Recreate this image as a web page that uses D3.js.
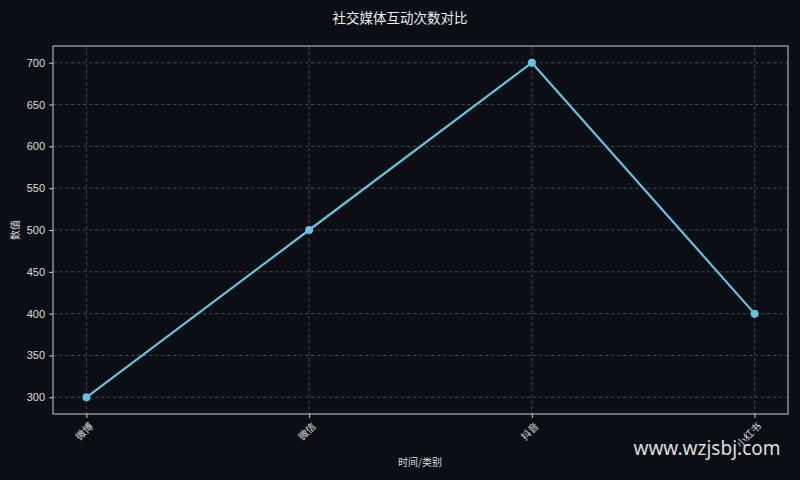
<!DOCTYPE html>
<html><head><meta charset="utf-8">
<script src="https://cdn.jsdelivr.net/npm/d3@7"></script>
<style>
html,body{margin:0;padding:0;background:#0b0e14;}
svg{display:block;}
</style></head>
<body>
<script>
const categories = ["微博", "微信", "抖音", "小红书"];
const values = [300, 500, 700, 400];
const yTicks = [300, 350, 400, 450, 500, 550, 600, 650, 700];
const title = "社交媒体互动次数对比";
const xLabel = "时间/类别";
const yLabel = "数值";
const watermark = "www.wzjsbj.com";

const W = 800, H = 480;
const m = {left: 53, right: 12, top: 46, bottom: 66};
const svg = d3.select("body").append("svg").attr("width", W).attr("height", H);
svg.append("rect").attr("width", W).attr("height", H).attr("fill", "#0b0e14");

const x = d3.scaleLinear().domain([-0.15, categories.length - 1 + 0.15]).range([m.left, W - m.right]);
const y = d3.scaleLinear().domain([280, 720]).range([H - m.bottom, m.top]);

const cjk = "'Noto Sans CJK SC','Liberation Sans',sans-serif";
const g = svg.append("g");

// grid
g.selectAll("line.hg").data(yTicks).enter().append("line")
  .attr("x1", m.left).attr("x2", W - m.right)
  .attr("y1", d => y(d)).attr("y2", d => y(d))
  .attr("stroke", "#54575c").attr("stroke-width", 0.8).attr("stroke-dasharray", "3.5,2.5");
g.selectAll("line.vg").data(categories).enter().append("line")
  .attr("x1", (d, i) => x(i)).attr("x2", (d, i) => x(i))
  .attr("y1", m.top).attr("y2", H - m.bottom)
  .attr("stroke", "#54575c").attr("stroke-width", 0.8).attr("stroke-dasharray", "3.5,2.5");

// axes
const yAxis = d3.axisLeft(y).tickValues(yTicks).tickSize(4).tickPadding(4);
const ya = svg.append("g").attr("transform", `translate(${m.left},0)`).call(yAxis);
ya.select(".domain").remove();
ya.selectAll("line").attr("stroke", "#cccccc");
ya.selectAll("text").attr("fill", "#dddddd").attr("font-size", 11).attr("font-family", "'Liberation Sans',Arial,sans-serif");

const xAxis = d3.axisBottom(x).tickValues(categories.map((d, i) => i)).tickFormat(i => categories[i]).tickSize(4);
const xa = svg.append("g").attr("transform", `translate(0,${H - m.bottom})`).call(xAxis);
xa.select(".domain").remove();
xa.selectAll("line").attr("stroke", "#cccccc");
xa.selectAll("text")
  .attr("fill", "#dddddd").attr("font-size", 10).attr("font-family", cjk)
  .attr("text-anchor", "end").attr("dy", null).attr("y", 0)
  .attr("transform", "translate(5,11) rotate(-45)")
  .attr("dominant-baseline", "middle");

// frame
svg.append("rect").attr("x", m.left).attr("y", m.top)
  .attr("width", W - m.left - m.right).attr("height", H - m.top - m.bottom)
  .attr("fill", "none").attr("stroke", "#cccccc").attr("stroke-width", 1);

// line
const line = d3.line().x((d, i) => x(i)).y(d => y(d));
svg.append("path").datum(values).attr("d", line)
  .attr("fill", "none").attr("stroke", "#6ac0e0").attr("stroke-width", 2.2);
svg.selectAll("circle.pt").data(values).enter().append("circle")
  .attr("cx", (d, i) => x(i)).attr("cy", d => y(d)).attr("r", 4)
  .attr("fill", "#6ac0e0");

// texts
svg.append("text").attr("x", 400).attr("y", 23).attr("text-anchor", "middle")
  .attr("fill", "#eeeeee").attr("font-size", 13.5).attr("font-family", cjk).text(title);
svg.append("text").attr("x", 420).attr("y", 466).attr("text-anchor", "middle")
  .attr("fill", "#dddddd").attr("font-size", 10).attr("font-family", cjk).text(xLabel);
svg.append("text").attr("transform", "translate(19,230) rotate(-90)").attr("text-anchor", "middle")
  .attr("fill", "#dddddd").attr("font-size", 10).attr("font-family", cjk).text(yLabel);
svg.append("text").attr("x", 707).attr("y", 455).attr("text-anchor", "middle")
  .attr("fill", "#dddddd").attr("font-size", 19).attr("font-family", "'Noto Sans','Open Sans',sans-serif").text(watermark);
</script>
</body></html>
